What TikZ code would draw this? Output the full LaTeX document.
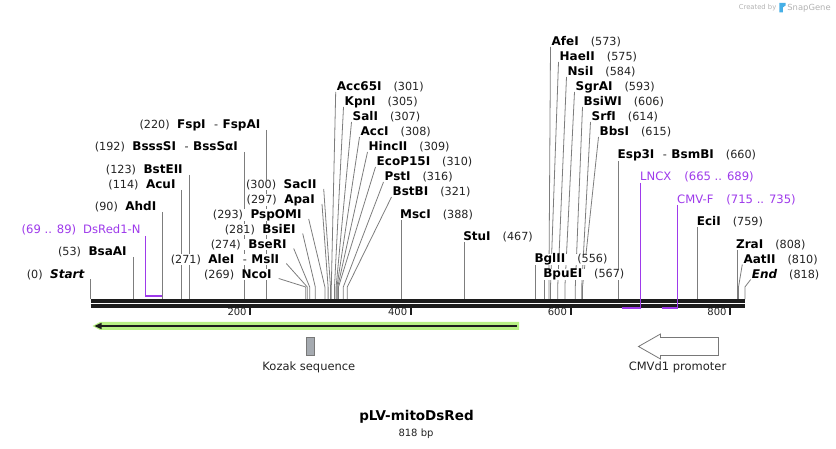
\documentclass[tikz,border=0pt]{standalone}
\usepackage{fontspec}
\setmainfont{DejaVu Sans}
\usetikzlibrary{calc,backgrounds}
\definecolor{cutgray}{RGB}{125,125,125}
\definecolor{featpurple}{RGB}{158,58,235}
\definecolor{lgreen}{RGB}{184,240,132}
\definecolor{bbblack}{RGB}{28,28,28}
\definecolor{numblack}{RGB}{35,35,35}
\definecolor{sglight}{RGB}{178,178,178}
\definecolor{sgblue}{RGB}{70,175,230}
\definecolor{kozgray}{RGB}{165,170,176}
\definecolor{arrowgray}{RGB}{120,120,120}
\newcommand{\enznum}{\fontsize{11.2}{13}\selectfont\mdseries\upshape\color{numblack}}
\newcommand{\enzname}{\fontsize{12}{14}\selectfont\bfseries\color{black}}
\newcommand{\dsh}{\hspace{8.5pt}{\enznum -}\hspace{4.5pt}}
\tikzset{
  enzlab/.style={inner sep=0pt, fill=white},
  cutline/.style={draw=cutgray, line width=0.8pt},
  featlab/.style={inner sep=0pt, fill=white, text=featpurple, font=\fontsize{11.6}{13}\selectfont},
  featline/.style={draw=featpurple, line width=1.2pt},
  featfoot/.style={draw=featpurple, line width=2.3pt},
  backbone/.style={draw=bbblack, line width=3.3pt},
  tickmark/.style={draw=bbblack, line width=2pt},
  ticklab/.style={inner sep=0pt, font=\fontsize{10}{12}\selectfont, text=numblack},
  bottomlab/.style={inner sep=0pt, font=\fontsize{11.5}{13}\selectfont, text=numblack},
}
% left label, slanted connector
\newcommand{\enzLs}[6]{%
  \node[enzlab, anchor=east] (#1) at (#2,#3) {{\enznum(#4)}\hspace{7.5pt}{\enzname #5}};
  \coordinate (#1b) at ({90.5+0.8*#6},287);
  \coordinate (#1e) at ({90.5+0.8*#6},299.5);
  \begin{pgfonlayer}{background}
  \draw[cutline] ($(#1.east)+(7,4)$) -- (#1b) -- (#1e);
  \end{pgfonlayer}}
% left label, vertical connector
\newcommand{\enzLv}[5]{%
  \node[enzlab, anchor=east] (#1) at ({90.5+0.8*#5-6},#2) {{\enznum(#3)}\hspace{7.5pt}{\enzname #4}};
  \coordinate (#1e) at ({90.5+0.8*#5},299.5);
  \begin{pgfonlayer}{background}
  \draw[cutline] ($(#1.east)+(6,5)$) -- (#1e);
  \end{pgfonlayer}}
% right label, slanted connector
\newcommand{\enzRs}[6]{%
  \node[enzlab, anchor=west] (#1) at (#2,#3) {{\enzname #4}\hspace{12pt}{\enznum(#5)}};
  \coordinate (#1b) at ({90.5+0.8*#6},287);
  \coordinate (#1e) at ({90.5+0.8*#6},299.5);
  \begin{pgfonlayer}{background}
  \draw[cutline] ($(#1.west)+(-1,5)$) -- (#1b) -- (#1e);
  \end{pgfonlayer}}
% right label, vertical connector
\newcommand{\enzRv}[5]{%
  \node[enzlab, anchor=west] (#1) at ({90.5+0.8*#5-1},#2) {{\enzname #3}\hspace{12pt}{\enznum(#4)}};
  \coordinate (#1e) at ({90.5+0.8*#5},299.5);
  \begin{pgfonlayer}{background}
  \draw[cutline] ($(#1.west)+(1,5)$) -- (#1e);
  \end{pgfonlayer}}
\begin{document}
\begin{tikzpicture}[x=1pt,y=-1pt]
\path[use as bounding box] (0,0) rectangle (836,449);

% ---- left-side enzymes, vertical
\enzLv{eStart}{274.5}{0}{\itshape Start}{0}
\enzLv{eBsaAI}{252}{53}{BsaAI}{53}
\enzLv{eAhdI}{207}{90}{AhdI}{90}
\enzLv{eAcuI}{185}{114}{AcuI}{114}
\enzLv{eBstEII}{170}{123}{BstEII}{123}
\enzLv{eBsssSI}{147}{192}{BsssSI\dsh BssSα{}I}{192}
\enzLv{eFspI}{125}{220}{FspI\dsh FspAI}{220}

% ---- left-side enzymes, slanted
\enzLs{eSacII}{316.7}{185}{300}{SacII}{300}
\enzLs{eApaI}{315}{200}{297}{ApaI}{297}
\enzLs{ePspOMI}{301.7}{215}{293}{PspOMI}{293}
\enzLs{eBsiEI}{295.7}{229.5}{281}{BsiEI}{281}
\enzLs{eBseRI}{286.7}{244.5}{274}{BseRI}{274}
\enzLs{eAleI}{279.3}{259.5}{271}{AleI\dsh MslI}{271}
\enzLs{eNcoI}{271.7}{274.5}{269}{NcoI}{269}

% ---- right-side enzymes, slanted
\enzRs{eAcc65I}{336.7}{87}{Acc65I}{301}{301}
\enzRs{eKpnI}{344.5}{102}{KpnI}{305}{305}
\enzRs{eSalI}{352.5}{117}{SalI}{307}{307}
\enzRs{eAccI}{360.5}{132}{AccI}{308}{308}
\enzRs{eHincII}{368.5}{147}{HincII}{309}{309}
\enzRs{eEcoP15I}{376.5}{162}{EcoP15I}{310}{310}
\enzRs{ePstI}{384.5}{177}{PstI}{316}{316}
\enzRs{eBstBI}{392.5}{192}{BstBI}{321}{321}
\enzRs{eAfeI}{551.5}{42}{AfeI}{573}{573}
\enzRs{eHaeII}{559.5}{57}{HaeII}{575}{575}
\enzRs{eNsiI}{567.5}{72}{NsiI}{584}{584}
\enzRs{eSgrAI}{575.5}{87}{SgrAI}{593}{593}
\enzRs{eBsiWI}{583.5}{102}{BsiWI}{606}{606}
\enzRs{eSrfI}{591.5}{117}{SrfI}{614}{614}
\enzRs{eBbsI}{599.5}{132}{BbsI}{615}{615}
\enzRs{eAatII}{743.3}{259.5}{AatII}{810}{810}
\enzRs{eEnd}{751.7}{274.5}{\itshape End}{818}{818}

% ---- right-side enzymes, vertical
\enzRv{eMscI}{215}{MscI}{388}{388}
\enzRv{eStuI}{237}{StuI}{467}{467}
\enzRv{eBglII}{259.5}{BglII}{556}{556}
\enzRv{eBpuEI}{274.5}{BpuEI}{567}{567}
\enzRv{eEsp3I}{155}{Esp3I\dsh BsmBI}{660}{660}
\enzRv{eEciI}{222}{EciI}{759}{759}
\enzRv{eZraI}{244.5}{ZraI}{808}{808}

% ---- backbone
\coordinate (bbL1) at (90.5,301);
\coordinate (bbR1) at (745.4,301);
\coordinate (bbL2) at (90.5,306);
\coordinate (bbR2) at (745.4,306);
\draw[backbone] (bbL1) -- (bbR1);
\draw[backbone] (bbL2) -- (bbR2);

% ---- ticks
\foreach \t/\xx in {200/250.3, 400/410.9, 600/570.6, 800/730.2}{
  \coordinate (tk\t a) at (\xx,307);
  \coordinate (tk\t b) at (\xx,315);
  \draw[tickmark] (tk\t a) -- (tk\t b);
  \node[ticklab, anchor=east] (tl\t) at (\xx-3.5,312) {\t};
}

% ---- features (primers)
\node[featlab, anchor=east] (fDs) at (140.7,230) {(69 .. 89)\hspace{7pt}DsRed1-N};
\coordinate (fDsA) at (145.7,236);
\coordinate (fDsB) at (145.7,296);
\coordinate (fDsC) at (161.5,296);
\draw[featline] (fDsA) -- (fDsB);
\draw[featfoot] ([xshift=-0.6pt]fDsB) -- (fDsC);

\node[featlab, anchor=west] (fLN) at (640,177) {LNCX\hspace{13pt}(665 .. 689)};
\coordinate (fLNA) at (640.7,183);
\coordinate (fLNB) at (640.7,308);
\coordinate (fLNC) at (621.7,308);
\draw[featline] (fLNA) -- (fLNB);
\draw[featfoot] ([xshift=0.6pt]fLNB) -- (fLNC);

\node[featlab, anchor=west] (fCM) at (677,200) {CMV-F\hspace{13pt}(715 .. 735)};
\coordinate (fCMA) at (677.3,205);
\coordinate (fCMB) at (677.3,308);
\coordinate (fCMC) at (661.7,308);
\draw[featline] (fCMA) -- (fCMB);
\draw[featfoot] ([xshift=0.6pt]fCMB) -- (fCMC);

% ---- DsRed ORF arrow
\fill[lgreen] (92.5,326) -- (100,322) -- (519,322) -- (519,330) -- (100,330) -- cycle;
\draw[draw=bbblack, line width=2pt] (516.5,326) -- (99,326);
\fill[bbblack] (94.5,326) -- (101.5,322.8) -- (101.5,329.2) -- cycle;

% ---- Kozak sequence
\node[draw=arrowgray, fill=kozgray, line width=0.8pt, minimum width=8pt, minimum height=18pt, inner sep=0pt] (kozak) at (310.3,346.5) {};
\node[bottomlab] (kozaklab) at (308.9,367) {Kozak sequence};

% ---- CMVd1 promoter
\draw[draw=arrowgray, fill=white, line width=0.8pt, line join=miter]
  (638.5,346.5) -- (660.5,334) -- (660.5,337.5) -- (718.5,337.5) -- (718.5,355.5)
  -- (660.5,355.5) -- (660.5,359) -- cycle;
\node[bottomlab] (cmvlab) at (677.5,367) {CMVd1 promoter};

% ---- title
\node[inner sep=0pt, font=\fontsize{13.5}{15}\selectfont\bfseries] (title) at (416.5,417) {pLV-mitoDsRed};
\node[inner sep=0pt, font=\fontsize{10}{12}\selectfont, text=numblack] (size) at (416,433.5) {818 bp};

% ---- credit
\node[inner sep=0pt, anchor=east, font=\fontsize{6.8}{8}\selectfont, text=sglight] (cred) at (776.5,7.5) {Created by};
\fill[sgblue] (779.3,3) -- (785.5,3) -- (785.5,5.5) -- (782.8,7.5) -- (782.8,12.5) -- (779.3,12.5) -- cycle;
\node[inner sep=0pt, anchor=west, font=\fontsize{8.4}{10}\selectfont, text=sglight] (sg) at (787.2,7.8) {SnapGene};
\end{tikzpicture}
\end{document}
